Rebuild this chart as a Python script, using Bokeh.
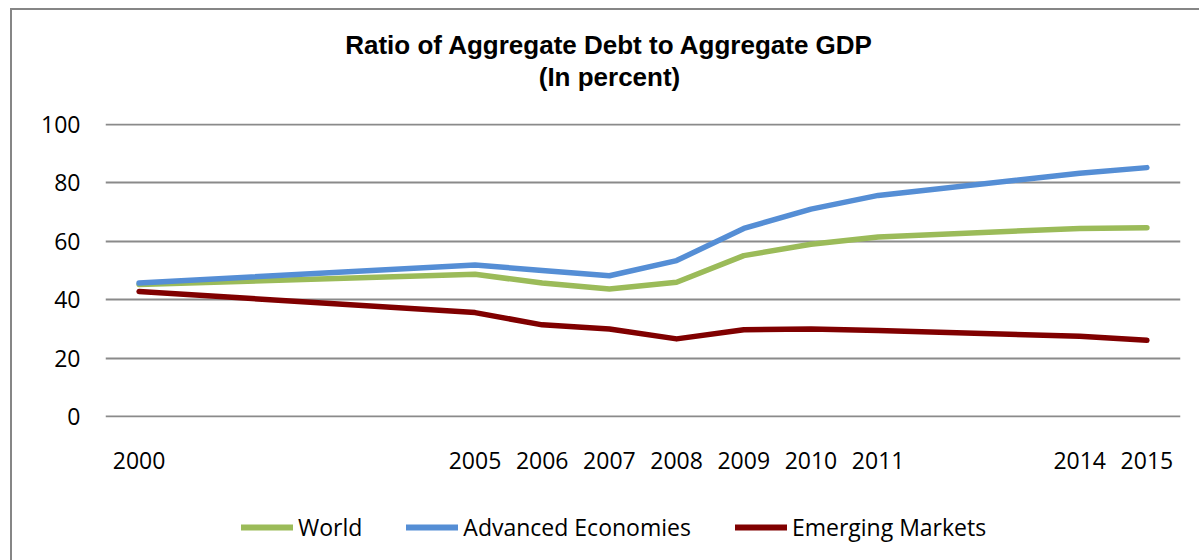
from bokeh.plotting import figure
from bokeh.layouts import column
from bokeh.models import Range1d, FixedTicker, Legend, LegendItem, Label
from bokeh.embed import file_html
from bokeh.resources import INLINE

# ---- data ----
years = [2000, 2005, 2006, 2007, 2008, 2009, 2010, 2011, 2014, 2015]
world = [45.2, 48.7, 45.7, 43.7, 46.0, 55.1, 59.0, 61.5, 64.4, 64.6]
advanced = [45.7, 51.9, 50.0, 48.2, 53.4, 64.4, 71.0, 75.7, 83.3, 85.2]
emerging = [42.8, 35.6, 31.4, 30.0, 26.6, 29.7, 30.0, 29.5, 27.5, 26.1]
series_names = ["World", "Advanced Economies", "Emerging Markets"]
y_ticks = [0, 20, 40, 60, 80, 100]
title_lines = ["Ratio of Aggregate Debt to Aggregate GDP", "(In percent)"]

colors = ["#9BBB59", "#558ED5", "#800000"]
LABEL_FONT = "Open Sans"
W = 1187
BL, BR = 93, 19                      # frame borders shared by all blocks
H_TITLE, H_MAIN, H_LEG = 85, 387, 78


def bare_figure(height):
    f = figure(width=W, height=height, output_backend="svg",
               toolbar_location=None, x_range=Range1d(BL, W - BR),
               y_range=Range1d(0, height), x_axis_type=None,
               y_axis_type=None, min_border_left=BL, min_border_right=BR,
               min_border_top=0, min_border_bottom=0)
    f.title = None
    f.outline_line_color = None
    f.grid.visible = False
    return f


# ---- title block ----
pt = bare_figure(H_TITLE)
for txt, yb in zip(title_lines, [51, 19]):
    pt.add_layout(Label(x=597, y=yb, text=txt, text_align="center",
                        text_baseline="alphabetic",
                        text_font="Liberation Sans", text_font_style="bold",
                        text_font_size="26px", text_color="black"))

# ---- main chart ----
p = figure(width=W, height=H_MAIN, output_backend="svg",
           toolbar_location=None,
           x_range=Range1d(1999.5, 2015.5), y_range=Range1d(-0.3, 100.3),
           min_border_left=BL, min_border_right=BR,
           min_border_top=28, min_border_bottom=65)
p.title = None
p.outline_line_color = None

p.xaxis.ticker = FixedTicker(ticks=years)
p.xaxis.major_label_overrides = {y: str(y) for y in years}
p.yaxis.ticker = FixedTicker(ticks=y_ticks)
for ax in (p.xaxis, p.yaxis):
    ax.axis_line_color = None
    ax.major_tick_line_color = None
    ax.minor_tick_line_color = None
    ax.major_label_text_font = LABEL_FONT
    ax.major_label_text_font_size = "23px"
    ax.major_label_text_color = "black"
p.xaxis.major_label_standoff = 28
p.yaxis.major_tick_out = 0
p.yaxis.major_label_standoff = 25

p.xgrid.grid_line_color = None
p.ygrid.grid_line_color = "#8A8A8A"
p.ygrid.grid_line_width = 1.8

for vals, col in zip([world, advanced, emerging], colors):
    p.line(years, vals, line_color=col, line_width=5.5,
           line_cap="round", line_join="round")

# ---- legend block (swatch renderers sit outside the visible range) ----
pl = bare_figure(H_LEG)
leg_renderers = [pl.line([-50, -40], [-50, -40], line_color=c, line_width=6,
                         line_cap="round") for c in colors]
legend = Legend(items=[LegendItem(label=n, renderers=[r])
                       for n, r in zip(series_names, leg_renderers)],
                orientation="horizontal", location=(136, 17))
legend.glyph_width = 52
legend.glyph_height = 20
legend.label_standoff = 5
legend.spacing = 44
legend.padding = 0
legend.margin = 0
legend.border_line_color = None
legend.background_fill_alpha = 0
legend.label_text_font = LABEL_FONT
legend.label_text_font_size = "23px"
legend.label_text_color = "black"
pl.add_layout(legend)

layout = column(pt, p, pl, spacing=0,
                styles={"margin-left": "10px", "margin-top": "8px",
                        "border-left": "2px solid #868686",
                        "border-top": "2px solid #868686"})

open("out.html", "w").write(file_html(layout, INLINE))
